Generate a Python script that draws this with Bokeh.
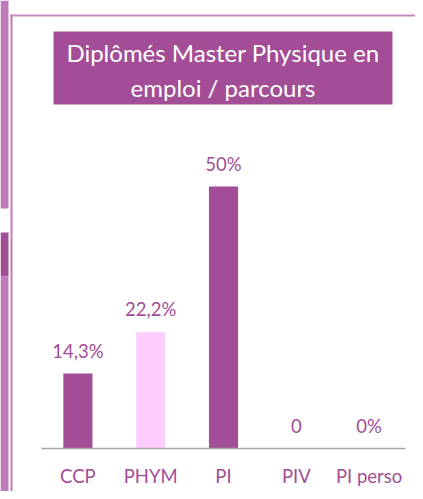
from bokeh.plotting import figure
from bokeh.models import Range1d
from bokeh.core.properties import value
from bokeh.embed import file_html
from bokeh.resources import INLINE

# ---- data ----
categories = ["CCP", "PHYM", "PI", "PIV", "PI perso"]
values = [14.3, 22.2, 50.0, 0.0, 0.0]
value_labels = ["14,3%", "22,2%", "50%", "0", "0%"]
bar_colors = ["#a24d96", "#fdcdfd", "#a24d96", "#a24d96", "#a24d96"]
title_lines = ["Diplômés Master Physique en", "emploi / parcours"]

# ---- layout (picture pixels) ----
W, H = 415, 491
PX_PER_CAT = 72.8
PX_PER_UNIT = 262 / 50.0
AXIS_LEFT = 41
BASE = 448

x_start = -0.5 - AXIS_LEFT / PX_PER_CAT
x_end = x_start + W / PX_PER_CAT
y_end = BASE / PX_PER_UNIT
y_start = y_end - H / PX_PER_UNIT


def px_x(px):
    return x_start + px / PX_PER_CAT


def px_y(py):
    return y_end - py / PX_PER_UNIT


FONT = "Lato"
PURPLE = "#a24d96"
LIGHT = "#c07ab8"

p = figure(width=W, height=H, output_backend="svg", toolbar_location=None,
           x_range=Range1d(x_start, x_end), y_range=Range1d(y_start, y_end),
           x_axis_type=None, y_axis_type=None, min_border=0,
           min_border_left=0, min_border_right=0, min_border_top=0, min_border_bottom=0)
p.grid.visible = False
p.outline_line_color = None
p.background_fill_color = "white"
p.border_fill_color = "white"

# left decorative strip
p.quad(left=[px_x(0)] * 3, right=[px_x(8)] * 3,
       top=[px_y(0), px_y(232), px_y(276)],
       bottom=[px_y(208), px_y(276), px_y(H)],
       fill_color=[LIGHT, PURPLE, LIGHT], line_color=None)

# frame lines
p.quad(left=px_x(10), right=px_x(12), top=px_y(14), bottom=px_y(H),
       fill_color=LIGHT, line_color=None)
p.quad(left=px_x(10), right=px_x(W), top=px_y(14), bottom=px_y(16),
       fill_color="#c58bc0", line_color=None)

# title box
p.quad(left=px_x(53), right=px_x(392), top=px_y(31), bottom=px_y(104),
       fill_color=PURPLE, line_color=None)
tx = (px_x(53) + px_x(392)) / 2
p.text(x=[tx, tx], y=[px_y(52), px_y(87)], text=title_lines,
       text_align="center", text_baseline="middle", text_color="white",
       text_font=value(FONT), text_font_size=value("24px"))

# bars
xs = list(range(len(categories)))
p.vbar(x=xs, top=values, bottom=0, width=0.4, fill_color=bar_colors, line_color=None)

# axis line
p.segment(x0=[-0.5], y0=[0], x1=[4.5], y1=[0], line_color="#a6a6a6", line_width=1.5)

# value labels
off = 23 / PX_PER_UNIT
p.text(x=xs, y=[v + off for v in values], text=value_labels,
       text_align="center", text_baseline="middle", text_color=PURPLE,
       text_font=value(FONT), text_font_size=value("18.5px"))

# category labels
p.text(x=xs, y=[px_y(475)] * len(xs), text=categories,
       text_align="center", text_baseline="middle", text_color=PURPLE,
       text_font=value(FONT), text_font_size=value("18.5px"))

open("out.html", "w").write(file_html(p, INLINE))
